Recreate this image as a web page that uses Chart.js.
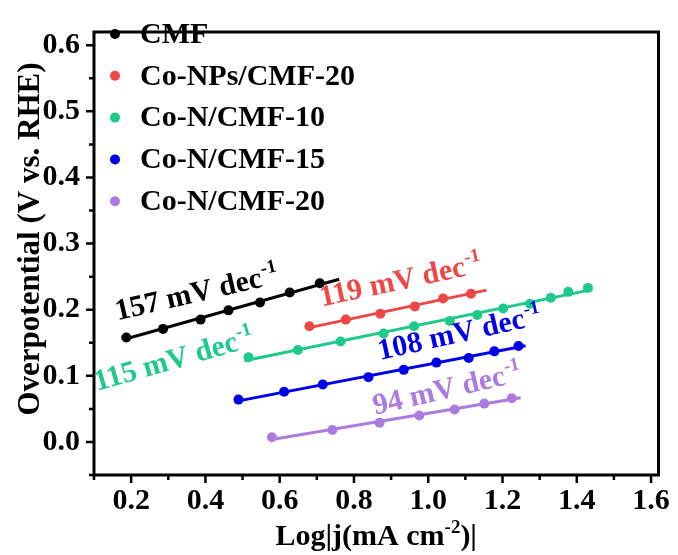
<!DOCTYPE html>
<html lang="zh-CN">
<head>
<meta charset="UTF-8">
<title>Tafel</title>
<script src="https://cdn.jsdelivr.net/npm/chart.js@4.4.1/dist/chart.umd.min.js"></script>
<style>
    html, body { margin: 0; padding: 0; background: #fff; }
    #box { width: 678px; height: 555px; }
</style>
</head>
<body>
<div id="box"><canvas id="tafelChart" width="678" height="555"></canvas></div>
<script>
// 样品名称
const sampleNames = ['CMF', 'Co-NPs/CMF-20', 'Co-N/CMF-10', 'Co-N/CMF-15', 'Co-N/CMF-20'];

// 各样品 Log|j| 与过电位 (V vs. RHE)
const cmfX = [0.187, 0.286, 0.387, 0.462, 0.547, 0.627, 0.708];
const cmfY = [0.158, 0.171, 0.185, 0.199, 0.211, 0.226, 0.240];
const coNps20X = [0.680, 0.778, 0.871, 0.964, 1.040, 1.115];
const coNps20Y = [0.175, 0.185, 0.194, 0.205, 0.217, 0.224];
const coN10X = [0.516, 0.649, 0.764, 0.880, 0.962, 1.058, 1.132, 1.202, 1.274, 1.330, 1.377, 1.430];
const coN10Y = [0.128, 0.139, 0.152, 0.164, 0.175, 0.183, 0.192, 0.202, 0.209, 0.218, 0.227, 0.233];
const coN15X = [0.489, 0.612, 0.716, 0.839, 0.934, 1.022, 1.109, 1.178, 1.243];
const coN15Y = [0.064, 0.076, 0.087, 0.098, 0.109, 0.120, 0.127, 0.137, 0.145];
const coN20X = [0.579, 0.742, 0.869, 0.976, 1.071, 1.151, 1.225];
const coN20Y = [0.007, 0.018, 0.029, 0.040, 0.049, 0.058, 0.066];

// Tafel 斜率 (mV dec-1) 及拟合直线的 x 范围
const tafelSlopes = [157, 119, 115, 108, 94];
const fitStartX = [0.187, 0.680, 0.505, 0.489, 0.579];
const fitEndX = [0.760, 1.157, 1.441, 1.262, 1.249];

// 坐标轴刻度
const xTickValues = [0.2, 0.4, 0.6, 0.8, 1.0, 1.2, 1.4, 1.6];
const yTickValues = [0.0, 0.1, 0.2, 0.3, 0.4, 0.5, 0.6];

// 颜色
const sampleColors = ['#000000', '#ef4646', '#1ec98a', '#0000e6', '#ab7be0'];

// 斜率标注位置 (数据坐标) 与旋转角度
const slopeLabelAt = [
    { x: 0.163, y: 0.184, angle: -13 },
    { x: 0.713, y: 0.205, angle: -12 },
    { x: 0.108, y: 0.077, angle: -16 },
    { x: 0.870, y: 0.124, angle: -12.5 },
    { x: 0.857, y: 0.041, angle: -13 }
];

const FONT = '"Liberation Serif", "Times New Roman", serif';
const allX = [cmfX, coNps20X, coN10X, coN15X, coN20X];
const allY = [cmfY, coNps20Y, coN10Y, coN15Y, coN20Y];

// 按给定斜率过质心求截距，生成拟合线两端
function fitLine(i) {
    const xs = allX[i], ys = allY[i];
    const k = tafelSlopes[i] / 1000;
    const mx = xs.reduce((s, v) => s + v, 0) / xs.length;
    const my = ys.reduce((s, v) => s + v, 0) / ys.length;
    const b = my - k * mx;
    return [
        { x: fitStartX[i], y: k * fitStartX[i] + b },
        { x: fitEndX[i], y: k * fitEndX[i] + b }
    ];
}

const datasets = [];
sampleNames.forEach((name, i) => {
    datasets.push({
        label: name + ' fit',
        data: fitLine(i),
        showLine: true,
        borderColor: sampleColors[i],
        borderWidth: 3,
        pointRadius: 0
    });
    datasets.push({
        label: name,
        data: allX[i].map((x, j) => ({ x: x, y: allY[i][j] })),
        showLine: false,
        backgroundColor: sampleColors[i],
        borderColor: sampleColors[i],
        pointRadius: 5,
        pointBorderWidth: 0
    });
});

// 边框、外侧刻度
const axisFrame = {
    id: 'axisFrame',
    afterDatasetsDraw(chart) {
        const { ctx, chartArea: a, scales } = chart;
        const sx = scales.x, sy = scales.y;
        ctx.save();
        ctx.strokeStyle = '#000';
        ctx.lineWidth = 3;
        ctx.strokeRect(a.left, a.top, a.right - a.left, a.bottom - a.top);
        ctx.lineWidth = 2.5;
        ctx.beginPath();
        for (let i = 1; i <= 16; i++) {
            const px = sx.getPixelForValue(i / 10);
            const len = i % 2 === 0 ? 8 : 5;
            ctx.moveTo(px, a.bottom);
            ctx.lineTo(px, a.bottom + len);
        }
        for (let i = -1; i <= 12; i++) {
            const py = sy.getPixelForValue(i * 0.05);
            const len = i % 2 === 0 ? 8 : 5;
            ctx.moveTo(a.left, py);
            ctx.lineTo(a.left - len, py);
        }
        ctx.stroke();
        ctx.restore();
    }
};

// 图例、斜率标注、坐标轴标题
const textLayer = {
    id: 'textLayer',
    afterDraw(chart) {
        const { ctx, chartArea: a, scales } = chart;
        ctx.save();

        // 图例
        sampleNames.forEach((name, i) => {
            const rowY = 34 + i * 41.8;
            ctx.fillStyle = sampleColors[i];
            ctx.beginPath();
            ctx.arc(115, rowY, 5, 0, Math.PI * 2);
            ctx.fill();
            ctx.fillStyle = '#000';
            ctx.font = 'bold 30px ' + FONT;
            ctx.textAlign = 'left';
            ctx.textBaseline = 'middle';
            ctx.fillText(name, 140, rowY + 1);
        });

        // 斜率标注
        ctx.textBaseline = 'alphabetic';
        slopeLabelAt.forEach((p, i) => {
            const px = scales.x.getPixelForValue(p.x);
            const py = scales.y.getPixelForValue(p.y);
            ctx.save();
            ctx.translate(px, py);
            ctx.rotate(p.angle * Math.PI / 180);
            ctx.fillStyle = sampleColors[i];
            ctx.font = 'bold 30px ' + FONT;
            const main = tafelSlopes[i] + ' mV dec';
            ctx.fillText(main, 0, 0);
            const w = ctx.measureText(main).width;
            ctx.font = 'bold 19px ' + FONT;
            ctx.fillText('-1', w + 1, -12);
            ctx.restore();
        });

        // x 轴标题 Log|j(mA cm-2)|
        ctx.fillStyle = '#000';
        const big = 'bold 30px ' + FONT, small = 'bold 19px ' + FONT;
        const parts = [['Log|j(mA cm', big, 0], ['-2', small, -12], [')|', big, 0]];
        let total = 0;
        parts.forEach(pt => { ctx.font = pt[1]; total += ctx.measureText(pt[0]).width; });
        let cx = (a.left + a.right) / 2 - total / 2;
        parts.forEach(pt => {
            ctx.font = pt[1];
            ctx.fillText(pt[0], cx, 545 + pt[2]);
            cx += ctx.measureText(pt[0]).width;
        });

        // y 轴标题
        ctx.save();
        ctx.translate(31, 239);
        ctx.rotate(-Math.PI / 2);
        ctx.font = 'bold 31px ' + FONT;
        ctx.textAlign = 'center';
        ctx.textBaseline = 'middle';
        ctx.fillText('Overpotential (V vs. RHE)', 0, 0);
        ctx.restore();

        ctx.restore();
    }
};

const tickFont = { family: FONT, size: 30, weight: 'bold' };

new Chart(document.getElementById('tafelChart'), {
    type: 'scatter',
    data: { datasets: datasets },
    options: {
        responsive: false,
        animation: false,
        devicePixelRatio: 1,
        layout: { padding: { top: 16, right: 15, left: 0, bottom: 0 } },
        plugins: {
            legend: { display: false },
            tooltip: { enabled: false }
        },
        scales: {
            x: {
                type: 'linear',
                min: 0.1,
                max: 1.62,
                afterBuildTicks: s => { s.ticks = xTickValues.map(v => ({ value: v })); },
                afterFit: s => { s.height = 80; },
                grid: { display: false, drawTicks: false },
                border: { display: false },
                ticks: {
                    font: tickFont,
                    color: '#000',
                    padding: 8,
                    maxRotation: 0,
                    autoSkip: false,
                    callback: v => Number(v).toFixed(1)
                }
            },
            y: {
                type: 'linear',
                min: -0.05,
                max: 0.62,
                afterBuildTicks: s => { s.ticks = yTickValues.map(v => ({ value: v })); },
                afterFit: s => { s.width = 94; },
                grid: { display: false, drawTicks: false },
                border: { display: false },
                ticks: {
                    font: tickFont,
                    color: '#000',
                    padding: 14,
                    autoSkip: false,
                    callback: v => Number(v).toFixed(1)
                }
            }
        }
    },
    plugins: [axisFrame, textLayer]
});
</script>
</body>
</html>
